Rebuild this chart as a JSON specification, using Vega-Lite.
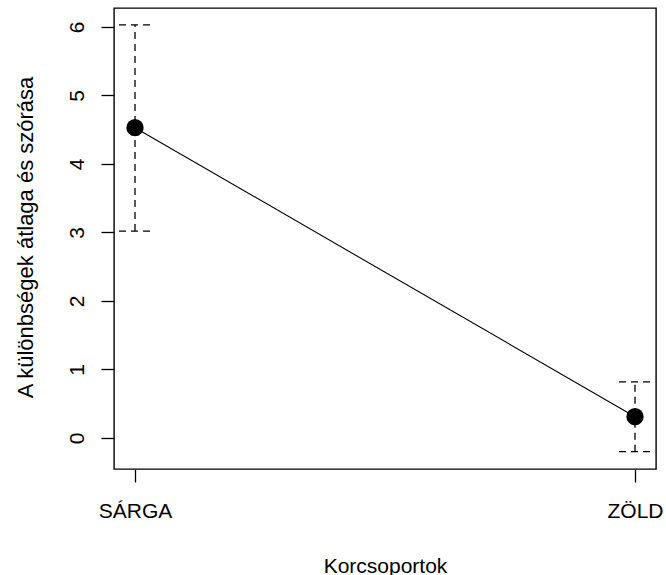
{
  "$schema": "https://vega.github.io/schema/vega-lite/v6.json",
  "autosize": {"type": "none"},
  "padding": {"left": 114, "top": 8, "right": 10, "bottom": 106},
  "width": 542,
  "height": 461,
  "background": "white",
  "data": {
    "values": [
      {"group": "SÁRGA", "mean": 4.53, "lower": 3.02, "upper": 6.03},
      {"group": "ZÖLD", "mean": 0.31, "lower": -0.2, "upper": 0.82}
    ]
  },
  "config": {
    "view": {"stroke": "black", "strokeWidth": 1.4},
    "font": "Liberation Sans",
    "axis": {
      "grid": false,
      "domain": false,
      "tickColor": "black",
      "tickSize": 13,
      "tickWidth": 1.3,
      "labelFont": "Liberation Sans",
      "labelFontSize": 21,
      "labelColor": "black",
      "titleFont": "Liberation Sans",
      "titleFontSize": 21,
      "titleFontWeight": "normal",
      "titleColor": "black",
      "labelPadding": 18,
      "titleBaseline": "alphabetic"
    },
    "axisX": {
      "labelAngle": 0,
      "labelBaseline": "top",
      "titleX": 271,
      "titleY": 103,
      "titleAnchor": "middle"
    },
    "axisY": {
      "labelAngle": -90,
      "labelAlign": "center",
      "labelBaseline": "alphabetic",
      "titleAngle": -90,
      "titleFontSize": 22,
      "titleX": -82,
      "titleY": 229,
      "titleAlign": "center"
    }
  },
  "encoding": {
    "x": {
      "field": "group",
      "type": "nominal",
      "sort": null,
      "scale": {"type": "point", "padding": 0.042},
      "axis": {"title": "Korcsoportok"}
    }
  },
  "layer": [
    {
      "mark": {"type": "rule", "color": "black", "strokeWidth": 1.3, "strokeDash": [7, 5]},
      "encoding": {
        "y": {
          "field": "lower",
          "type": "quantitative",
          "scale": {"domain": [-0.453, 6.277], "nice": false, "zero": false},
          "axis": {"title": "A különbségek átlaga és szórása", "values": [0, 1, 2, 3, 4, 5, 6]}
        },
        "y2": {"field": "upper"}
      }
    },
    {
      "mark": {"type": "rule", "color": "black", "strokeWidth": 1.3, "strokeDash": [7, 5], "xOffset": -16, "x2Offset": 16},
      "encoding": {
        "x2": {"field": "group"},
        "y": {"field": "upper", "type": "quantitative", "axis": {"title": "A különbségek átlaga és szórása", "values": [0, 1, 2, 3, 4, 5, 6]}}
      }
    },
    {
      "mark": {"type": "rule", "color": "black", "strokeWidth": 1.3, "strokeDash": [7, 5], "xOffset": -16, "x2Offset": 16},
      "encoding": {
        "x2": {"field": "group"},
        "y": {"field": "lower", "type": "quantitative", "axis": {"title": "A különbségek átlaga és szórása", "values": [0, 1, 2, 3, 4, 5, 6]}}
      }
    },
    {
      "mark": {"type": "line", "color": "black", "strokeWidth": 1.1},
      "encoding": {
        "y": {"field": "mean", "type": "quantitative", "axis": {"title": "A különbségek átlaga és szórása", "values": [0, 1, 2, 3, 4, 5, 6]}}
      }
    },
    {
      "mark": {"type": "point", "shape": "circle", "filled": true, "color": "black", "opacity": 1, "size": 300},
      "encoding": {
        "y": {"field": "mean", "type": "quantitative", "axis": {"title": "A különbségek átlaga és szórása", "values": [0, 1, 2, 3, 4, 5, 6]}}
      }
    }
  ]
}
